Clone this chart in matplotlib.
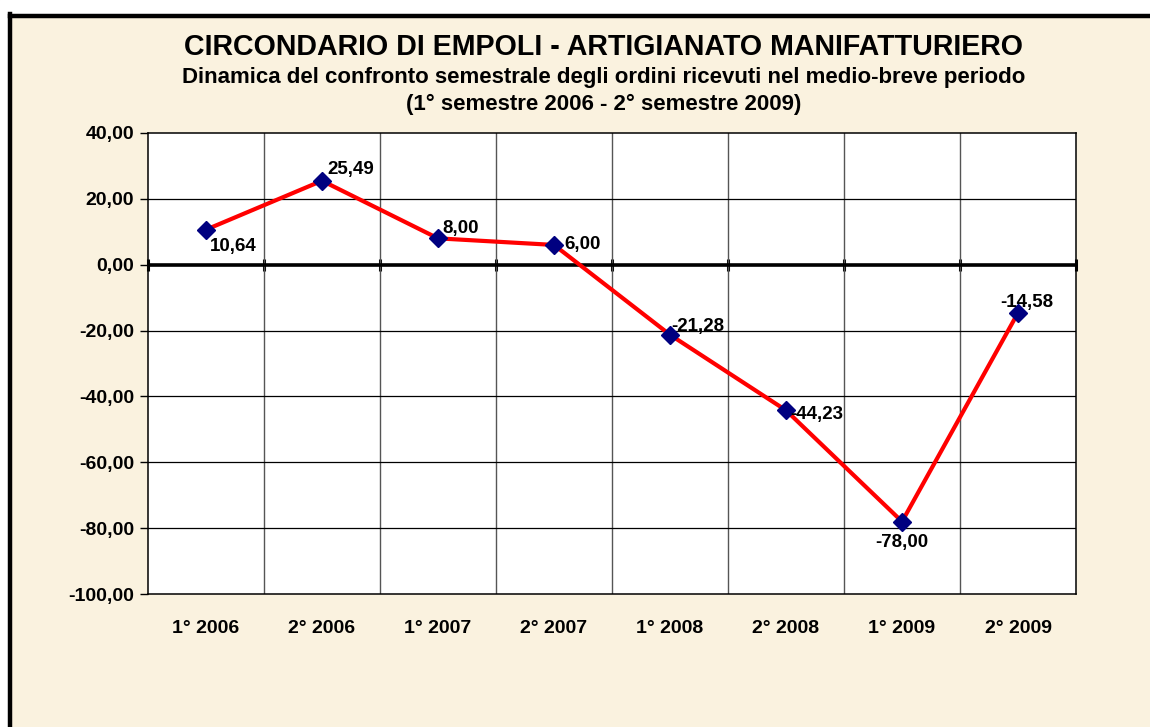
import matplotlib
matplotlib.use("Agg")
import matplotlib.pyplot as plt
from matplotlib.lines import Line2D
from matplotlib.ticker import FuncFormatter

plt.rcParams["font.family"] = ["Liberation Sans", "DejaVu Sans"]
plt.rcParams["font.weight"] = "bold"

CATEGORIES = ["1° 2006", "2° 2006", "1° 2007", "2° 2007",
              "1° 2008", "2° 2008", "1° 2009", "2° 2009"]
VALUES = [10.64, 25.49, 8.00, 6.00, -21.28, -44.23, -78.00, -14.58]

# label offsets in pixels (dx, dy, ha, va)
LABEL_POS = [
    (4, -17, "left", "center"),
    (5, 11, "left", "center"),
    (4, 10, "left", "center"),
    (10, 0, "left", "center"),
    (1, 8, "left", "center"),
    (4, -4, "left", "center"),
    (0, -21, "center", "center"),
    (-18, 10, "left", "center"),
]

BG = "#FAF2DF"


def fmt(v):
    return f"{v:.2f}".replace(".", ",")


fig = plt.figure(figsize=(11.5, 7.27), dpi=100, facecolor=BG)
ax = fig.add_axes([0.1287, 0.1829, 0.807, 0.6342])
ax.set_facecolor("white")

x = list(range(len(CATEGORIES)))
ax.set_xlim(-0.5, len(CATEGORIES) - 0.5)
ax.set_ylim(-100, 40)
ax.set_yticks(range(-100, 41, 20))
ax.yaxis.set_major_formatter(FuncFormatter(lambda v, _: fmt(v)))
ax.tick_params(axis="y", direction="out", length=6, width=1, labelsize=14, pad=4)

ax.set_xticks(x)
ax.set_xticklabels(CATEGORIES)
ax.tick_params(axis="x", length=0, labelsize=14, pad=19)

bounds = [i + 0.5 for i in range(len(CATEGORIES) - 1)]
for b in bounds:
    ax.axvline(b, color="#555555", lw=1, zorder=1)
for yv in range(-80, 40, 20):
    if yv != 0:
        ax.axhline(yv, color="black", lw=0.9, zorder=1)

for s in ax.spines.values():
    s.set_linewidth(1.1)
    s.set_color("black")

# zero axis with cross ticks
ax.axhline(0, color="black", lw=2.6, zorder=2)
sec = ax.secondary_xaxis(100 / 140)
sec.set_xticks([-0.5] + bounds + [len(CATEGORIES) - 0.5])
sec.set_xticklabels([])
sec.tick_params(direction="inout", length=8, width=2.2)
sec.spines["bottom"].set_visible(False)

ax.plot(x, VALUES, color="#FF0000", lw=3, zorder=3, solid_capstyle="round")
ax.plot(x, VALUES, linestyle="none", marker="D", markersize=9,
        color="#000080", zorder=4)

for xi, v, (dx, dy, ha, va) in zip(x, VALUES, LABEL_POS):
    ax.annotate(fmt(v), (xi, v), xytext=(dx, dy), textcoords="offset pixels",
                ha=ha, va=va, fontsize=13.5, fontweight="bold", zorder=5)

fig.text(0.525, 0.936, "CIRCONDARIO DI EMPOLI - ARTIGIANATO MANIFATTURIERO",
         ha="center", va="center", fontsize=20.6, fontweight="bold")
fig.text(0.525, 0.894,
         "Dinamica del confronto semestrale degli ordini ricevuti nel medio-breve periodo",
         ha="center", va="center", fontsize=16, fontweight="bold")
fig.text(0.525, 0.856, "(1° semestre 2006 - 2° semestre 2009)",
         ha="center", va="center", fontsize=16, fontweight="bold")

# outer frame (top and left edges visible)
fig.add_artist(Line2D([10 / 1150, 1], [1 - 16 / 727, 1 - 16 / 727],
                      transform=fig.transFigure, color="black", lw=3.2))
fig.add_artist(Line2D([10 / 1150, 10 / 1150], [0, 1 - 14 / 727],
                      transform=fig.transFigure, color="black", lw=3.2))
fig.add_artist(plt.Rectangle((0, 1 - 14 / 727), 1, 14 / 727,
                             transform=fig.transFigure, color="white", zorder=-1))
fig.add_artist(plt.Rectangle((0, 0), 8 / 1150, 1,
                             transform=fig.transFigure, color="white", zorder=-1))

fig.savefig("out.png", dpi=100, facecolor=BG)
